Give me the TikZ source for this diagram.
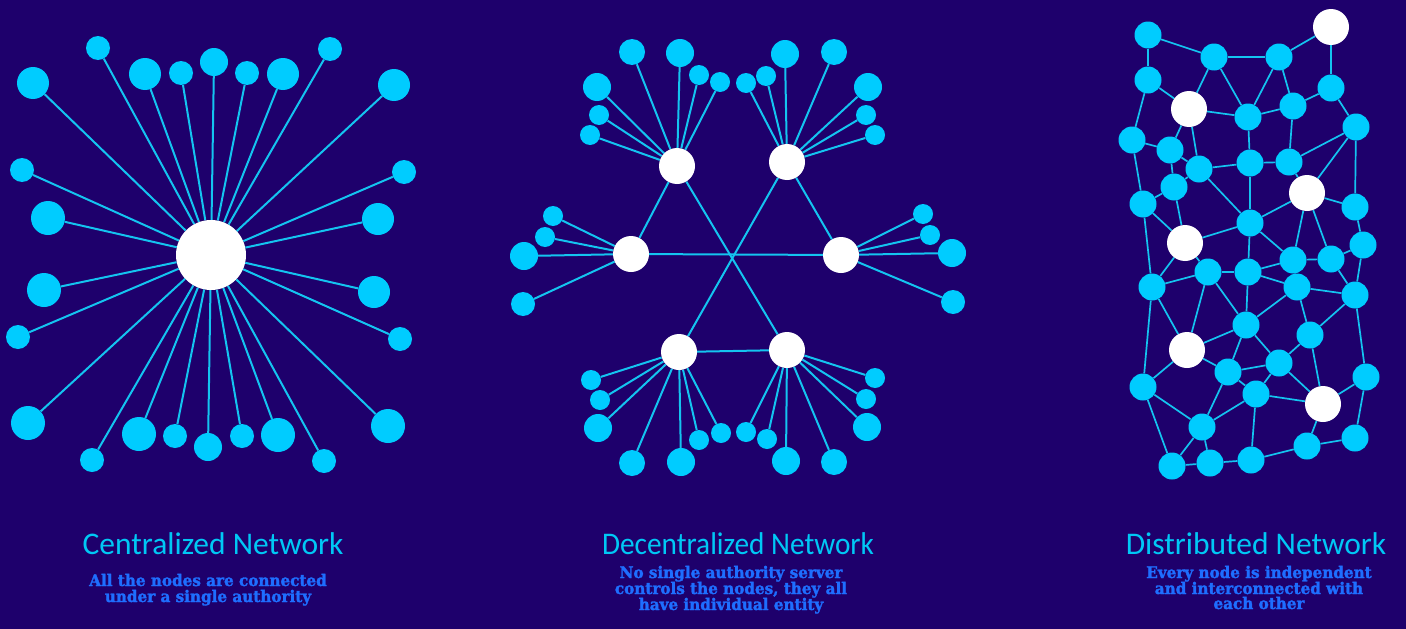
\documentclass[tikz,border=0pt]{standalone}
\usepackage{fontspec}
\setmainfont{Carlito}
\newfontfamily\subfont[FakeStretch=0.95,BoldFeatures={FakeBold=1.8}]{DejaVu Serif}
\definecolor{bgc}{RGB}{30,0,108}
\definecolor{nodec}{RGB}{0,204,255}
\definecolor{linec}{RGB}{20,196,240}
\definecolor{titlec}{RGB}{0,200,245}
\definecolor{subc}{RGB}{30,110,255}
\pgfdeclarelayer{background}
\pgfdeclarelayer{canvas}
\pgfsetlayers{canvas,background,main}
\tikzset{
  leaf/.style={circle, fill=nodec, draw=none, inner sep=0pt},
  hubnode/.style={circle, fill=white, draw=none, inner sep=0pt},
  link/.style={draw=linec, line width=2pt},
  dlink/.style={draw=linec, line width=2pt},
  mlink/.style={draw=linec, line width=1.7pt},
  title/.style={anchor=base, text=titlec, font=\fontsize{31.5}{33}\selectfont},
  subtitle/.style={anchor=base, text=subc, font=\subfont\bfseries\fontsize{16}{17}\selectfont},
}
\begin{document}
\begin{tikzpicture}[x=1pt,y=-1pt]
\begin{pgfonlayer}{canvas}
\fill[bgc] (0,0) rectangle (1406,629);
\end{pgfonlayer}
\useasboundingbox (0,0) rectangle (1406,629);

% ---------- Centralized ----------
\node[hubnode, minimum size=70] (hub) at (211,255) {};
\foreach \n/\x/\y/\r in {c1/98/48/12, c2/145/74/16, c3/181/73/12, c4/214/62/14, c5/247/73/12,
  c6/283/74/16, c7/330/49/12, c8/33/83/16, c9/394/85/16, c10/22/170/12, c11/404/172/12,
  c12/48/218/17, c13/378/219/16, c14/44/290/17, c15/18/337/12, c16/374/292/16, c17/400/339/12,
  c18/28/423/17, c19/388/426/17, c20/92/460/12, c21/139/434/17, c22/175/436/12, c23/208/447/14,
  c24/242/436/12, c25/278/435/17, c26/324/461/12}
  \node[leaf, minimum size=2*\r] (\n) at (\x,\y) {};
\begin{pgfonlayer}{background}
\foreach \i in {1,...,26} \draw[link] (hub) -- (c\i);
\end{pgfonlayer}

% ---------- Decentralized ----------
\foreach \n/\x/\y in {dTL/677/166, dTR/787/162, dL/631/254, dR/841/255, dBL/679/352, dBR/787/350}
  \node[hubnode, minimum size=36] (\n) at (\x,\y) {};
\foreach \n/\x/\y/\r/\h in {
  a1/632/52/13/dTL, a2/680/53/14/dTL, a3/699/75/10/dTL, a4/720/82/10/dTL, a5/597/87/14/dTL, a6/599/115/10/dTL, a7/590/135/10/dTL,
  b1/746/83/10/dTR, b2/766/76/10/dTR, b3/785/54/14/dTR, b4/834/52/13/dTR, b5/868/87/14/dTR, b6/866/115/10/dTR, b7/875/135/10/dTR,
  l1/553/216/10/dL, l2/545/237/10/dL, l3/524/256/14/dL, l4/523/304/12/dL,
  r1/923/214/10/dR, r2/930/235/10/dR, r3/952/253/14/dR, r4/953/302/12/dR,
  e1/591/380/10/dBL, e2/600/400/10/dBL, e3/598/428/14/dBL, e4/632/463/13/dBL, e5/681/462/14/dBL, e6/699/440/10/dBL, e7/721/433/10/dBL,
  f1/746/432/10/dBR, f2/767/439/10/dBR, f3/786/461/14/dBR, f4/834/462/13/dBR, f5/867/427/14/dBR, f6/866/399/10/dBR, f7/875/378/10/dBR}
{
  \node[leaf, minimum size=2*\r] (\n) at (\x,\y) {};
  \begin{pgfonlayer}{background}
  \draw[dlink] (\h) -- (\n);
  \end{pgfonlayer}
}
\begin{pgfonlayer}{background}
\draw[dlink] (dTL) -- (dBR);
\draw[dlink] (dTR) -- (dBL);
\draw[dlink] (dL) -- (dR);
\draw[dlink] (dBL) -- (dBR);
\draw[dlink] (dTL) -- (dL);
\draw[dlink] (dTR) -- (dR);
\end{pgfonlayer}

% ---------- Distributed ----------
\foreach \n/\x/\y in {A/1148/35, B/1214/57, C/1279/57, D/1148/80, E/1248/117, F/1293/106,
  G/1331/88, H/1356/127, I/1132/140, J/1170/150, K/1199/169, L/1250/163, M/1289/162,
  N/1143/204, O/1174/187, P/1355/207, Q/1250/223, R/1363/245, S/1293/260, T/1331/259,
  U/1152/287, V/1208/272, X/1248/272, Y/1297/287, Z/1355/295, AA/1246/325, BB/1310/335,
  CC/1228/372, DD/1279/363, EE/1143/387, FF/1256/394, GG/1366/377, HH/1202/427,
  II/1307/446, JJ/1355/438, KK/1172/466, LL/1210/463, MM/1251/460}
  \node[leaf, minimum size=27] (\n) at (\x,\y) {};
\foreach \n/\x/\y in {W1/1331/27, W2/1189/109, W3/1307/193, W4/1185/243, W5/1187/350, W6/1323/404}
  \node[hubnode, minimum size=36] (\n) at (\x,\y) {};
\begin{pgfonlayer}{background}
\foreach \p/\q in {A/B, A/D, B/C, B/W2, B/E, C/W1, C/E, C/F, W1/G, D/W2, D/I, W2/E, W2/J, W2/K,
  E/F, E/L, F/G, F/M, G/H, H/M, H/W3, H/P, I/J, I/N, J/O, J/K, K/L, K/O, K/Q, L/M, L/Q, M/W3,
  N/O, N/W4, O/W4, W3/P, W3/Q, W3/S, W3/T, P/R, Q/W4, Q/X, Q/S, W4/U, W4/V, S/T, T/R, U/V,
  U/EE, U/W5, N/U, V/X, V/W5, V/AA, X/Y, X/AA, X/S, Y/S, Y/Z, Y/AA, Y/BB, T/Z, R/Z, Z/BB, Z/GG,
  AA/W5, AA/CC, AA/DD, BB/DD, BB/W6, W5/CC, W5/EE, CC/DD, CC/FF, CC/HH, DD/FF, DD/W6, FF/W6,
  FF/HH, FF/MM, EE/HH, EE/KK, HH/KK, HH/LL, KK/LL, LL/MM, MM/II, II/W6, II/JJ, JJ/GG, GG/W6}
  \draw[mlink] (\p) -- (\q);
\end{pgfonlayer}

% ---------- Texts ----------
\node[title] (t1) at (213,554) {Centralized Network};
\node[subtitle] (s1a) at (208,586) {All the nodes are connected};
\node[subtitle] (s1b) at (208,602) {under a single authority};

\node[title] (t2) at (738,554) {\scalebox{0.93}[1]{Decentralized Network}};
\node[subtitle] (s2a) at (731,578) {No single authority server};
\node[subtitle] (s2b) at (731,594) {controls the nodes, they all};
\node[subtitle] (s2c) at (731,610) {have individual entity};

\node[title] (t3) at (1256,554) {Distributed Network};
\node[subtitle] (s3a) at (1259,578) {Every node is independent};
\node[subtitle] (s3b) at (1259,594) {and interconnected with};
\node[subtitle] (s3c) at (1259,609) {each other};
\end{tikzpicture}
\end{document}
